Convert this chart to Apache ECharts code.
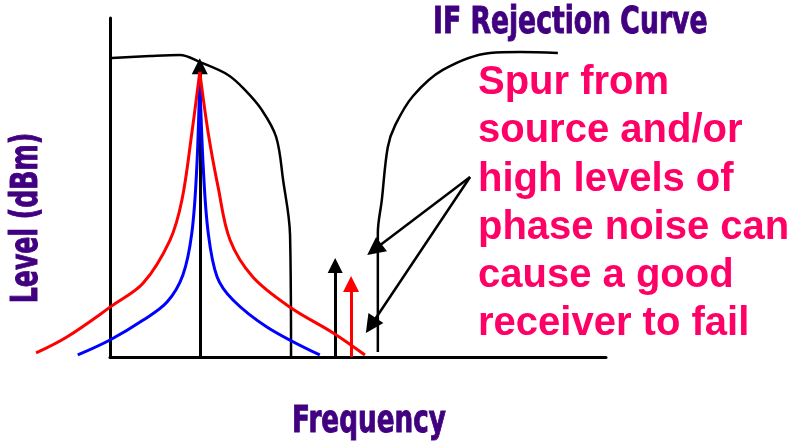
<!DOCTYPE html>
<html>
<head>
<meta charset="utf-8">
<script src="https://cdn.jsdelivr.net/npm/echarts@6/dist/echarts.min.js"></script>
<style>
  html, body { margin: 0; padding: 0; background: #fff; }
  #chart { width: 796px; height: 444px; }
</style>
</head>
<body>
<div id="chart"></div>
<script>
// frequency (x) and level (y) both in arbitrary units, axis box is 0..100
const ifLeft = [[0.4, 88.2], [8.1, 88.8], [14.1, 89.1], [18.1, 87.0], [23.8, 83.2], [27.2, 78.8],
  [30.6, 72.9], [33.5, 64.9], [34.9, 52.2], [36.3, 36.0], [36.5, 0]];
const ifRight = [[54.0, 1.5], [54.0, 36.6], [54.8, 46.3], [56.0, 61.9], [57.5, 68.4], [61.1, 77.0],
  [67.1, 84.7], [76.6, 89.7], [82.7, 90.0], [90.3, 89.7]];
const blueLeft = [[-6.5, 0.6], [0, 5.0], [6.7, 10.9], [11.5, 16.2], [14.7, 24.2], [16.5, 36.6],
  [17.5, 56.0], [18.1, 82.6]];
const blueRight = [[18.1, 82.6], [18.8, 56.0], [19.8, 36.6], [21.6, 23.6], [24.8, 16.8],
  [31.7, 8.8], [42.3, 0.6]];
const redLeft = [[-14.9, 1.2], [-8.7, 5.9], [0.6, 15.3], [6.7, 21.8], [12.1, 34.5], [14.5, 46.3],
  [16.5, 66.1], [18.1, 84.1]];
const redRight = [[18.1, 84.1], [19.8, 66.1], [21.8, 50.1], [24.2, 34.5], [28.8, 23.6],
  [36.3, 14.7], [45.0, 7.1], [51.4, 0.6]];

// arrows: [start, end]
const carrier = [[18.1, 0], [18.1, 85.8]];
const spurBlack = [[45.4, 0], [45.4, 27.0]];
const spurRed = [[48.6, 0], [48.6, 21.5]];
const pointers = [
  [[72.6, 53.1], [53.3, 31.7]],
  [[72.6, 53.1], [52.6, 9.3]]
];

const noteLines = ['Spur from', 'source and/or', 'high levels of', 'phase noise can',
  'cause a good', 'receiver to fail'];

const chart = echarts.init(document.getElementById('chart'));

// plot box: x 0..100 over 110..606 px, y 0..100 over 357..18 px
const pxPerUnit = 4.96;
const xFrom = -16;

function curve(data, color, width) {
  return {
    type: 'line',
    xAxisIndex: 1, yAxisIndex: 1,
    data: data,
    smooth: 0.35,
    symbol: 'none',
    clip: false,
    silent: true,
    lineStyle: { color: color, width: width }
  };
}

function arrow(data, color, size, width) {
  return {
    type: 'lines',
    coordinateSystem: 'cartesian2d',
    xAxisIndex: 1, yAxisIndex: 1,
    silent: true,
    symbol: ['none', 'triangle'],
    symbolSize: size,
    lineStyle: { color: color, width: width, opacity: 1, curveness: 0 },
    itemStyle: { color: color },
    data: data.map(function (c) { return { coords: c }; })
  };
}

const hiddenAxis = { show: false, type: 'value', gridIndex: 1 };
const blackAxis = {
  type: 'value', min: 0, max: 100,
  axisLine: { show: true, onZero: false, lineStyle: { color: '#000', width: 3 } },
  axisTick: { show: false }, axisLabel: { show: false }, splitLine: { show: false }
};

const purple = '#400080';
const pink = '#ff0066';
const labelFont = 'bold 37px "DejaVu Sans"';

function purpleText(text, x, y, scaleX, align, rotation) {
  return {
    type: 'text', x: x, y: y, scaleX: scaleX, rotation: rotation || 0,
    style: { text: text, font: labelFont, fill: purple, stroke: purple, lineWidth: 1,
      textAlign: align, align: align, textVerticalAlign: 'middle', verticalAlign: 'middle' }
  };
}

const option = {
  backgroundColor: '#fff',
  animation: false,
  grid: [
    { left: 110, right: 190, top: 18, bottom: 87 },
    { left: 110 + xFrom * pxPerUnit, right: 190, top: 18, bottom: 87 }
  ],
  xAxis: [
    blackAxis,
    Object.assign({}, hiddenAxis, { min: xFrom, max: 100 })
  ],
  yAxis: [
    blackAxis,
    Object.assign({}, hiddenAxis, { min: 0, max: 100 })
  ],
  series: [
    curve(ifLeft, '#000', 2.5),
    curve(ifRight, '#000', 2.5),
    curve(blueLeft, '#0000ff', 3),
    curve(blueRight, '#0000ff', 3),
    arrow([carrier], '#000', [15, 16], 3),
    curve(redLeft, '#ff0000', 3),
    curve(redRight, '#ff0000', 3),
    arrow([spurBlack], '#000', [15, 15], 3),
    arrow([spurRed], '#ff0000', [16, 16], 3),
    arrow(pointers, '#000', [13, 18], 2.5)
  ],
  graphic: [
    purpleText('IF Rejection Curve', 433, 23, 0.72, 'left'),
    purpleText('Frequency', 369, 422, 0.71, 'center'),
    purpleText('Level (dBm)', 27, 218, 0.68, 'center', Math.PI / 2),
    {
      type: 'text', x: 478, y: 59,
      style: { text: noteLines.join('\n'), font: 'bold 40px "Liberation Sans"', fill: pink,
        lineHeight: 48.2,
        textAlign: 'left', align: 'left', textVerticalAlign: 'top', verticalAlign: 'top' }
    }
  ]
};

chart.setOption(option);
</script>
</body>
</html>
